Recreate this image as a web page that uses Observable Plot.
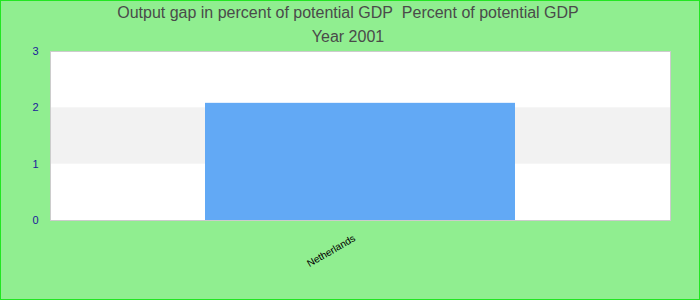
<!DOCTYPE html>
<html>
<head>
<meta charset="utf-8">
<script src="https://cdn.jsdelivr.net/npm/d3@7"></script>
<script src="https://cdn.jsdelivr.net/npm/@observablehq/plot@0.6"></script>
<style>
  html, body { margin: 0; padding: 0; }
  #chart {
    position: relative; width: 700px; height: 300px; box-sizing: border-box;
    background: #90ee90; outline: 1px solid #22e622; outline-offset: -1px;
    font-family: "Liberation Sans", Arial, sans-serif; overflow: hidden;
  }
  .title {
    position: absolute; left: 0; width: 696px; text-align: center;
    font-size: 16px; color: #4a4a4a; line-height: 20px;
  }
  #chart svg { position: absolute; left: 0; top: 0; }
</style>
</head>
<body>
<div id="chart">
  <div class="title" style="top:3px">Output gap in percent of potential GDP&nbsp; Percent of potential GDP</div>
  <div class="title" style="top:27px">Year 2001</div>
</div>
<script>
const countries = ["Netherlands"];
const values = [2.08];
const yTicks = [0, 1, 2, 3];
const bands = [{y1: 1, y2: 2}];

const data = countries.map((c, i) => ({country: c, value: values[i]}));

const plot = Plot.plot({
  width: 700,
  height: 300,
  marginLeft: 50,
  marginRight: 30,
  marginTop: 51,
  marginBottom: 80,
  style: {background: "transparent", fontFamily: "Liberation Sans, Arial, sans-serif"},
  x: {domain: countries, paddingInner: 0.5, paddingOuter: 0.25, label: null},
  y: {domain: [0, 3], ticks: yTicks, label: null},
  marks: [
    Plot.frame({fill: "white"}),
    Plot.rect(bands, {y1: "y1", y2: "y2", fill: "#f2f2f2"}),
    Plot.barY(data, {x: "country", y: "value", fill: "#62a9f5"}),
    Plot.frame({stroke: "#cccccc", strokeWidth: 1}),
    Plot.axisY({ticks: yTicks, tickSize: 0, tickPadding: 12, fill: "#1a1a9a", fontSize: 11, tickFormat: d => d}),
    Plot.axisX({tickSize: 0, tickRotate: -30, tickPadding: 8, dx: -6, dy: 9, fill: "black", fontSize: 10})
  ]
});
document.getElementById("chart").appendChild(plot);
</script>
</body>
</html>
